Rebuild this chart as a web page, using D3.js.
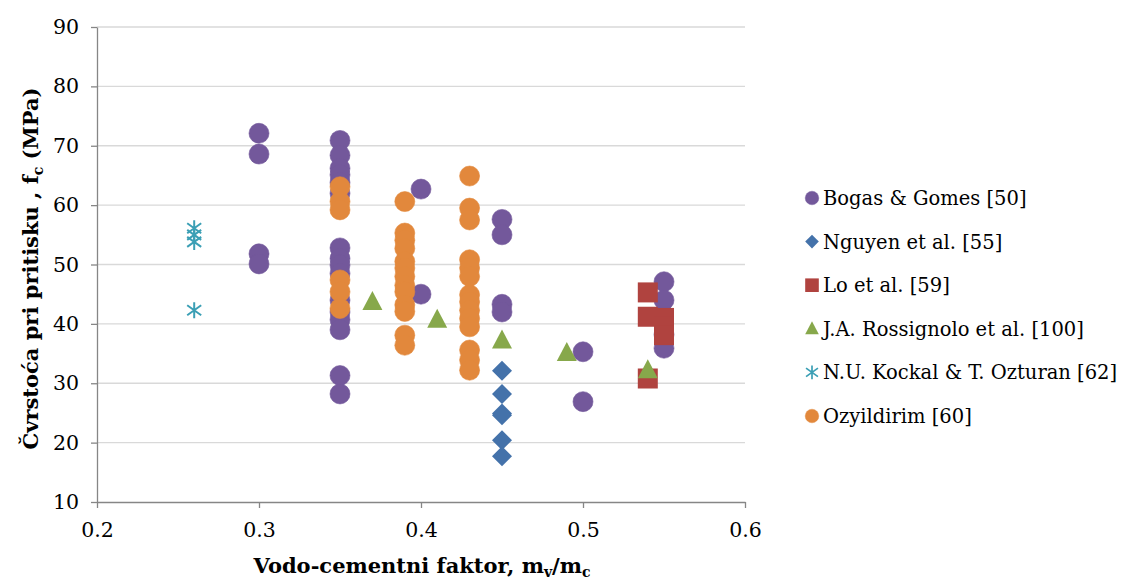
<!DOCTYPE html>
<html>
<head>
<meta charset="utf-8">
<script src="https://cdn.jsdelivr.net/npm/d3@7"></script>
<style>
  body { margin: 0; background: #fff; }
  text { font-family: "DejaVu Serif", serif; fill: #000; }
</style>
</head>
<body>
<script>
// data
var bogasX = [0.3, 0.3, 0.3, 0.3,
  0.35, 0.35, 0.35, 0.35, 0.35, 0.35, 0.35, 0.35, 0.35, 0.35, 0.35, 0.35, 0.35, 0.35, 0.35, 0.35,
  0.4, 0.4, 0.45, 0.45, 0.45, 0.45, 0.5, 0.5, 0.55, 0.55, 0.55, 0.55];
var bogasY = [72.1, 68.6, 51.8, 50.1,
  70.9, 68.4, 66.2, 65.1, 63.8, 62.0, 52.8, 51.0, 49.9, 48.5, 44.0, 42.0, 40.7, 39.0, 31.3, 28.2,
  62.7, 45.0, 57.6, 55.0, 43.3, 42.0, 35.3, 26.9, 47.1, 44.0, 38.2, 35.9];

var nguyenX = [0.45, 0.45, 0.45, 0.45, 0.45, 0.45];
var nguyenY = [32.1, 28.2, 24.9, 24.6, 20.4, 17.7];

var loX = [0.54, 0.54, 0.54, 0.55, 0.55, 0.55];
var loY = [45.3, 41.2, 30.8, 41.0, 39.5, 38.1];

var rossX = [0.37, 0.41, 0.45, 0.49, 0.54];
var rossY = [43.7, 40.7, 37.2, 35.1, 32.2];

var kockalX = [0.26, 0.26, 0.26, 0.26];
var kockalY = [56.1, 55.0, 53.8, 42.3];

var ozyX = [0.35, 0.35, 0.35, 0.35, 0.35, 0.35,
  0.39, 0.39, 0.39, 0.39, 0.39, 0.39, 0.39, 0.39, 0.39, 0.39, 0.39, 0.39, 0.39,
  0.43, 0.43, 0.43, 0.43, 0.43, 0.43, 0.43, 0.43, 0.43, 0.43, 0.43, 0.43, 0.43, 0.43];
var ozyY = [63.1, 60.6, 59.2, 47.4, 45.4, 42.6,
  60.6, 55.3, 54.1, 52.7, 50.5, 49.4, 48.0, 46.5, 45.4, 43.2, 42.1, 38.1, 36.4,
  64.9, 59.5, 57.5, 50.8, 49.4, 48.0, 44.9, 43.7, 42.3, 40.9, 39.5, 35.6, 33.9, 32.2];

var seriesNames = ["Bogas & Gomes [50]", "Nguyen et al. [55]", "Lo et al. [59]",
  "J.A. Rossignolo et al. [100]", "N.U. Kockal & T. Ozturan [62]", "Ozyildirim [60]"];
var xTicks = [0.2, 0.3, 0.4, 0.5, 0.6];
var yTicks = [10, 20, 30, 40, 50, 60, 70, 80, 90];

var W = 1121, H = 583;
var margin = {top: 27, right: 376, bottom: 81, left: 97};
var width = W - margin.left - margin.right,
    height = H - margin.top - margin.bottom;

var svg = d3.select("body").append("svg")
    .attr("width", W)
    .attr("height", H);
var g = svg.append("g")
    .attr("transform", "translate(" + margin.left + "," + margin.top + ")");

var x = d3.scaleLinear().domain([0.2, 0.6]).range([0, width]);
var y = d3.scaleLinear().domain([10, 90]).range([height, 0]);

// gridlines
g.selectAll(".grid").data(yTicks.slice(1)).enter().append("line")
    .attr("x1", 0).attr("x2", width)
    .attr("y1", function(d) { return y(d); })
    .attr("y2", function(d) { return y(d); })
    .attr("stroke", "#d9d9d9").attr("stroke-width", 1.3);

// axes
var xAxis = g.append("g")
    .attr("transform", "translate(0," + height + ")")
    .call(d3.axisBottom(x).tickValues(xTicks).tickFormat(d3.format(".1f")).tickSize(6).tickSizeOuter(0));
var yAxis = g.append("g")
    .call(d3.axisLeft(y).tickValues(yTicks).tickSize(6).tickSizeOuter(0));
[xAxis, yAxis].forEach(function(a) {
  a.select(".domain").attr("stroke", "#868686").attr("stroke-width", 1.3);
  a.selectAll(".tick line").attr("stroke", "#868686").attr("stroke-width", 1.3);
  a.selectAll(".tick text").style("font-family", "DejaVu Serif").style("font-size", "20.5px").attr("fill", "#000");
});
xAxis.selectAll(".tick text").attr("y", 20).attr("dy", "0.71em");
yAxis.selectAll(".tick text").attr("x", -18);

var colors = ["#73589b", "#4472aa", "#b0433f", "#87a84b", "#3b9fb5", "#e2883c"];

function drawMarker(sel, type, c) {
  if (type === 0 || type === 5) {
    sel.append("circle").attr("r", 10).attr("fill", c).attr("stroke", c).attr("stroke-opacity", 0.6);
  } else if (type === 1) {
    sel.append("path").attr("d", "M0,-10L10,0L0,10L-10,0Z").attr("fill", c);
  } else if (type === 2) {
    sel.append("rect").attr("x", -10).attr("y", -10).attr("width", 20).attr("height", 20).attr("fill", c);
  } else if (type === 3) {
    sel.append("path").attr("d", "M0,-11L10,8L-10,8Z").attr("fill", c);
  } else if (type === 4) {
    sel.append("path").attr("d", "M0,-8L0,8M-7,-5L7,5M-7,5L7,-5")
      .attr("stroke", c).attr("stroke-width", 2).attr("fill", "none");
  }
}

var allX = [bogasX, nguyenX, loX, rossX, kockalX, ozyX];
var allY = [bogasY, nguyenY, loY, rossY, kockalY, ozyY];

allX.forEach(function(xs, s) {
  var pts = xs.map(function(v, i) { return [v, allY[s][i]]; });
  g.append("g").selectAll("g").data(pts).enter().append("g")
    .attr("transform", function(d) { return "translate(" + x(d[0]) + "," + y(d[1]) + ")"; })
    .each(function() { drawMarker(d3.select(this), s, colors[s]); });
});

// legend
var legend = svg.append("g").attr("transform", "translate(812,198)");
seriesNames.forEach(function(name, i) {
  var row = legend.append("g").attr("transform", "translate(0," + (i * 43.6) + ")");
  var m = row.append("g").attr("transform", i === 4 ? "scale(0.85)" : "scale(0.68)");
  drawMarker(m, i, colors[i]);
  row.append("text").attr("x", 11).attr("y", 7)
    .style("font-size", "19.5px").text(name);
});

// axis titles
var xt = svg.append("text")
    .attr("x", margin.left + width / 2 + 1).attr("y", 573)
    .attr("text-anchor", "middle")
    .style("font-size", "21px").style("font-weight", "bold");
xt.append("tspan").text("Vodo-cementni faktor, m");
xt.append("tspan").attr("dy", 4).style("font-size", "14px").text("v");
xt.append("tspan").attr("dy", -4).text("/m");
xt.append("tspan").attr("dy", 4).style("font-size", "14px").text("c");

var yt = svg.append("text")
    .attr("transform", "translate(38," + (margin.top + height / 2 + 4) + ") rotate(-90)")
    .attr("text-anchor", "middle")
    .style("font-size", "21px").style("font-weight", "bold");
yt.append("tspan").text("Čvrstoća pri pritisku , f");
yt.append("tspan").attr("dy", 5).style("font-size", "14px").text("c");
yt.append("tspan").attr("dy", -5).text(" (MPa)");
</script>
</body>
</html>
